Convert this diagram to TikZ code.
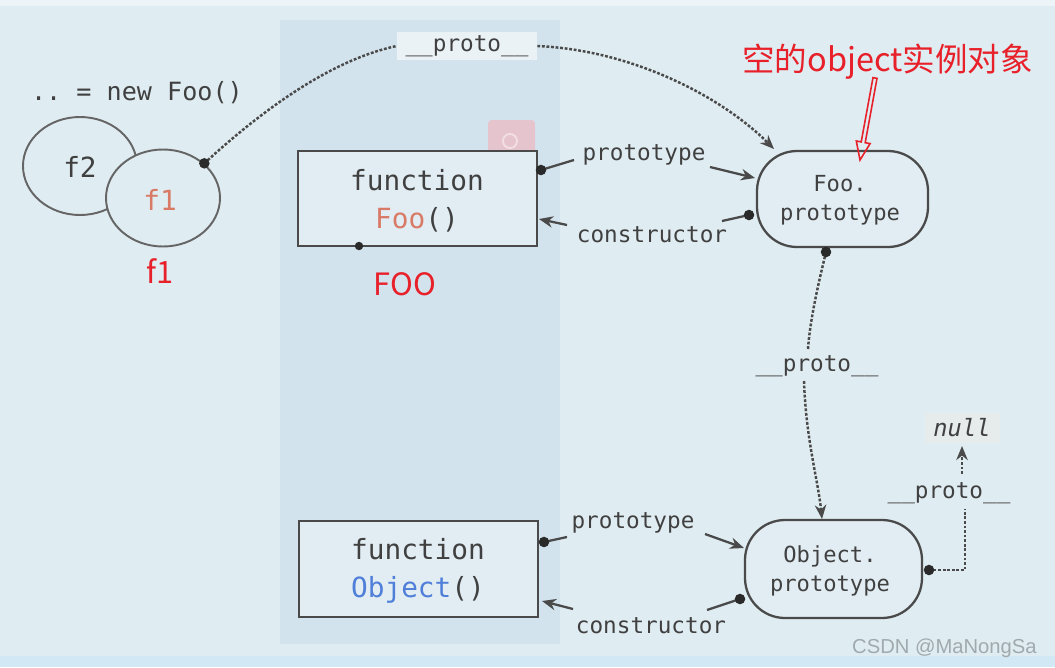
\documentclass[tikz,border=0pt]{standalone}
\usepackage{fontspec}
\setmonofont{DejaVu Sans Mono}
\newfontfamily\cjk{Noto Sans CJK SC}
\newfontfamily\wmfont{Liberation Sans}
\usetikzlibrary{arrows.meta,shapes.geometric,calc}
\definecolor{bg}{HTML}{DFECF1}
\definecolor{panel}{HTML}{D3E3EE}
\definecolor{boxfill}{HTML}{E1EDF3}
\definecolor{ink}{HTML}{404040}
\definecolor{lin}{HTML}{4A4A4A}
\definecolor{salmon}{HTML}{D97A66}
\definecolor{objblue}{HTML}{4F7FD9}
\definecolor{redtxt}{HTML}{E8202A}
\definecolor{lblfill}{HTML}{EAF2F6}
\definecolor{nullfill}{HTML}{E6EBEB}
\definecolor{wmgray}{HTML}{A0AAAE}
\definecolor{stripb}{HTML}{D2E9F5}
\definecolor{pinkicon}{HTML}{E6C4CE}
\definecolor{pinklight}{HTML}{F2E0E5}
\definecolor{dotc}{HTML}{2A2A2A}
\newdimen\px \px=0.02cm
\begin{document}
\begin{tikzpicture}[x=0.02cm,y=-0.02cm,
  txt/.style={font=\ttfamily\fontsize{12.9}{15}\selectfont, text=ink, inner sep=0pt},
  big/.style={font=\ttfamily\fontsize{15.8}{21.6}\selectfont, text=ink, align=center},
  boxn/.style={draw=lin, line width=1.3pt, fill=boxfill, inner sep=0pt},
  ellip/.style={ellipse, draw=lin!85, line width=1.1pt, fill=bg, inner sep=0pt},
  redl/.style={font=\cjk\fontsize{17}{20}\selectfont, text=redtxt, inner sep=0pt},
  conn/.style={draw=lin, line width=1.3pt},
  dotl/.style={draw=lin, line width=1.4pt, dash pattern=on 1.6pt off 1pt},
  tip/.style={-{Stealth[length=8pt,width=6.5pt]}},
]
\useasboundingbox (0,0) rectangle (1055,667);
% background
\fill[bg] (0,0) rectangle (1055,667);
\fill[white!40!bg] (0,0) rectangle (1055,6);
\fill[stripb] (0,656) rectangle (1055,667);
\fill[panel] (280,20) rectangle (560,644);
% faint watermark icon
\fill[pinkicon, rounded corners=2pt] (488,120) rectangle (535,167);
\draw[pinklight, line width=1pt] (510,141) circle (4pt);

% left instances
\node[txt, font=\ttfamily\fontsize{14.3}{16}\selectfont] (newfoo) at (137,93) {.. = new Foo()};
\node[ellip, minimum width=114\px, minimum height=98\px] (f2) at (80,166) {};
\node[txt, font=\ttfamily\fontsize{15.8}{18}\selectfont] (f2t) at (80,167) {f2};
\node[ellip, minimum width=114\px, minimum height=97\px] (f1) at (163,198) {};
\node[txt, font=\ttfamily\fontsize{15.8}{18}\selectfont, text=salmon] (f1t) at (160,200) {f1};
\node[redl, font=\cjk\fontsize{17.5}{20}\selectfont] (f1lbl) at (160,271) {f1};

% constructor boxes
\node[boxn, minimum width=239\px, minimum height=95\px] (foo) at (417.5,198.5) {};
\node[big] (footxt) at (417,201) {function\\\textcolor{salmon}{Foo}()};
\node[redl, font=\cjk\fontsize{17.5}{20}\selectfont] (FOO) at (405,284) {FOO};
\node[boxn, minimum width=239\px, minimum height=96\px] (obj) at (418.5,569) {};
\node[big] (objtxt) at (418,571) {function\\\textcolor{objblue}{Object}()};

% prototype objects
\node[boxn, rounded corners=40\px, minimum width=171\px, minimum height=96\px] (fp) at (842.5,199) {};
\node[txt, align=center, font=\ttfamily\fontsize{12.6}{16.5}\selectfont] (fptxt) at (840,200) {Foo.\\prototype};
\node[boxn, rounded corners=40\px, minimum width=177\px, minimum height=98\px] (op) at (833.5,569) {};
\node[txt, align=center, font=\ttfamily\fontsize{12.6}{16.5}\selectfont] (optxt) at (830,571) {Object.\\prototype};

% labels
\node[txt, fill=lblfill, minimum width=140\px, minimum height=28\px] (p1) at (467,46) {\_\_proto\_\_};
\node[txt] (pt1) at (644,155) {prototype};
\node[txt] (ct1) at (652,235) {constructor};
\node[txt] (pt2) at (633,523) {prototype};
\node[txt] (ct2) at (651,626) {constructor};
\node[txt] (p2) at (817,366) {\_\_proto\_\_};
\node[txt] (p3) at (949,493) {\_\_proto\_\_};
\node[txt, fill=nullfill, minimum width=75\px, minimum height=30\px,
      font=\ttfamily\itshape\fontsize{13.5}{15}\selectfont] (null) at (962,428) {null};
\node[redl, font=\cjk\fontsize{18.5}{22}\selectfont, anchor=west] (note) at (742,62) {空的object实例对象};
\node[inner sep=0pt, font=\wmfont\fontsize{11.5}{13}\selectfont, text=wmgray, anchor=east] (wm) at (1037,648) {CSDN @MaNongSa};

% coordinates
\coordinate (d1) at (f1.40);
\coordinate (fpTL) at (774,149);
\coordinate (a1s) at (541,170);  \coordinate (a1m) at (574,160);
\coordinate (a1n) at (710,167);  \coordinate (a1e) at (755,178);
\coordinate (c1s) at (749,215);  \coordinate (c1m) at (722,221);
\coordinate (c1n) at (567,225);  \coordinate (c1e) at (539,219);
\coordinate (a2s) at (544,542);  \coordinate (a2m) at (567,537);
\coordinate (a2n) at (705,534);  \coordinate (a2e) at (744,548);
\coordinate (c2s) at (740,599);  \coordinate (c2m) at (707,610);
\coordinate (c2n) at (573,609);  \coordinate (c2e) at (542,601);
\coordinate (fpB) at (826,252);
\coordinate (p2top) at (808,349);
\coordinate (p2bot) at (804,381);
\coordinate (opT) at (822,519);
\coordinate (opR) at (929,570);
\coordinate (rc) at (965,570);
\coordinate (p3bot) at (965,509);
\coordinate (p3top) at (962,474);
\coordinate (nullB) at (962,446);
\coordinate (fooB) at (359,246);

% top __proto__ from f1
\draw[dotl] (d1) .. controls (260,112) and (330,60) .. (p1.west);
\draw[dotl, tip] (p1.east) .. controls (630,50) and (720,95) .. (fpTL);
% Foo prototype / constructor
\draw[conn] (a1s) -- (a1m);
\draw[conn, tip] (a1n) -- (a1e);
\draw[conn] (c1s) -- (c1m);
\draw[conn, tip] (c1n) -- (c1e);
% Object prototype / constructor
\draw[conn] (a2s) -- (a2m);
\draw[conn, tip] (a2n) -- (a2e);
\draw[conn] (c2s) -- (c2m);
\draw[conn, tip] (c2n) -- (c2e);
% Foo.prototype -> Object.prototype
\draw[dotl] (fpB) .. controls (818,285) and (810,320) .. (p2top);
\draw[dotl, tip] (p2bot) .. controls (806,440) and (818,480) .. (opT);
% Object.prototype -> null
\draw[dotl] (opR) -- (rc) -- (p3bot);
\draw[dotl, tip] (p3top) -- (nullB);

% dots
\foreach \p in {d1,a1s,c1s,a2s,c2s,fpB,opR}{\fill[dotc] (\p) circle (3pt);}
\fill[dotc] (fooB) circle (2.4pt);

% red hollow arrow
\draw[redtxt, line width=0.9pt, line join=miter]
  (873.0,77.6) -- (861.2,141.9) -- (856.3,141.0) -- (860,160) -- (870.1,143.6) -- (865.2,142.7) -- (877.0,78.4) -- cycle;
\end{tikzpicture}
\end{document}
